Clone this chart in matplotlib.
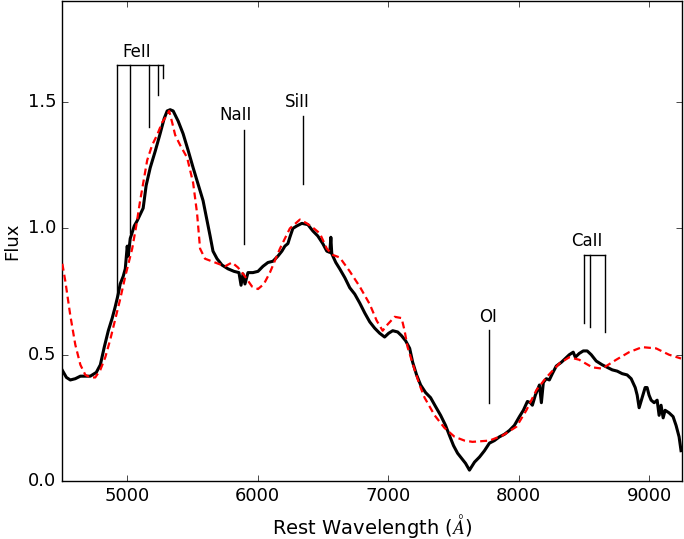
#
# spectrum vs model plot, with line ids
#

import numpy as np
import matplotlib
matplotlib.use('Agg')
import matplotlib.pyplot as plt

# observed spectrum (rest frame)
obs_wave = [4503, 4534, 4564, 4602, 4641, 4717, 4763, 4794, 4824, 4855,
            4885, 4908, 4931, 4946, 4969, 4985, 5000, 5008, 5023, 5054,
            5076, 5099, 5122, 5145, 5176, 5214, 5252, 5283, 5306, 5329,
            5352, 5390, 5428, 5466, 5505, 5543, 5581, 5612, 5635, 5657,
            5688, 5726, 5772, 5818, 5856, 5872, 5887, 5902, 5925, 5963,
            6002, 6040, 6078, 6116, 6154, 6185, 6208, 6231, 6246, 6269,
            6300, 6338, 6384, 6422, 6460, 6498, 6529, 6552, 6560, 6567,
            6598, 6628, 6667, 6705, 6743, 6781, 6820, 6858, 6896, 6934,
            6972, 7003, 7034, 7072, 7102, 7133, 7164, 7187, 7217, 7248,
            7286, 7324, 7362, 7401, 7439, 7469, 7500, 7531, 7561, 7592,
            7622, 7661, 7699, 7737, 7775, 7813, 7852, 7890, 7928, 7966,
            8005, 8035, 8066, 8089, 8104, 8127, 8158, 8173, 8188, 8211,
            8234, 8257, 8287, 8326, 8356, 8387, 8417, 8433, 8463, 8494,
            8524, 8555, 8593, 8639, 8677, 8716, 8754, 8792, 8830, 8861,
            8892, 8907, 8922, 8945, 8968, 8983, 8998, 9014, 9037, 9060,
            9075, 9090, 9106, 9121, 9151, 9182, 9205, 9228, 9243]
obs_flux = [0.438, 0.41, 0.40, 0.405, 0.415, 0.415, 0.43, 0.46, 0.53, 0.595,
            0.645, 0.69, 0.74, 0.78, 0.81, 0.84, 0.93, 0.89, 0.96, 1.01,
            1.03, 1.055, 1.08, 1.17, 1.24, 1.305, 1.375, 1.435, 1.465, 1.47,
            1.465, 1.425, 1.375, 1.31, 1.24, 1.175, 1.11, 1.03, 0.97, 0.91,
            0.88, 0.855, 0.84, 0.83, 0.825, 0.775, 0.82, 0.78, 0.825, 0.825,
            0.83, 0.85, 0.865, 0.87, 0.89, 0.91, 0.93, 0.94, 0.965, 1.0,
            1.01, 1.02, 1.015, 0.99, 0.97, 0.94, 0.91, 0.905, 0.965, 0.90,
            0.865, 0.84, 0.805, 0.765, 0.74, 0.705, 0.665, 0.63, 0.605, 0.585,
            0.57, 0.585, 0.595, 0.59, 0.575, 0.555, 0.525, 0.47, 0.42, 0.38,
            0.35, 0.33, 0.295, 0.26, 0.22, 0.18, 0.14, 0.11, 0.09, 0.07,
            0.043, 0.075, 0.095, 0.12, 0.15, 0.16, 0.175, 0.185, 0.20, 0.22,
            0.255, 0.28, 0.315, 0.31, 0.30, 0.34, 0.38, 0.31, 0.39, 0.405,
            0.40, 0.425, 0.455, 0.47, 0.485, 0.50, 0.51, 0.49, 0.505, 0.515,
            0.515, 0.50, 0.475, 0.46, 0.45, 0.44, 0.435, 0.425, 0.42, 0.405,
            0.37, 0.34, 0.29, 0.33, 0.37, 0.37, 0.34, 0.32, 0.31, 0.32,
            0.26, 0.30, 0.25, 0.28, 0.27, 0.255, 0.22, 0.175, 0.12]

# synthetic model spectrum
mod_wave = [4503, 4526, 4564, 4602, 4641, 4679, 4717, 4755, 4794, 4832,
            4870, 4908, 4946, 4985, 5038, 5069, 5099, 5153, 5191, 5229,
            5268, 5306, 5321, 5344, 5367, 5405, 5459, 5505, 5535, 5558,
            5596, 5673, 5749, 5803, 5849, 5902, 5956, 6002, 6047, 6093,
            6170, 6246, 6323, 6376, 6430, 6476, 6529, 6575, 6628, 6705,
            6781, 6858, 6911, 6957, 6995, 7049, 7102, 7125, 7148, 7202,
            7240, 7278, 7355, 7431, 7508, 7584, 7645, 7775, 7875, 7982,
            8058, 8135, 8211, 8310, 8387, 8463, 8563, 8639, 8746, 8845,
            8945, 9052, 9151, 9243]
mod_flux = [0.86, 0.79, 0.655, 0.54, 0.46, 0.42, 0.41, 0.41, 0.44, 0.49,
            0.56, 0.64, 0.72, 0.81, 0.92, 1.01, 1.11, 1.27, 1.33, 1.37,
            1.42, 1.45, 1.465, 1.42, 1.37, 1.33, 1.28, 1.18, 1.06, 0.92,
            0.88, 0.865, 0.85, 0.865, 0.845, 0.81, 0.77, 0.76, 0.78, 0.825,
            0.92, 1.0, 1.035, 1.02, 1.0, 0.98, 0.92, 0.895, 0.885, 0.83,
            0.77, 0.70, 0.635, 0.595, 0.62, 0.65, 0.645, 0.595, 0.53, 0.44,
            0.38, 0.33, 0.26, 0.21, 0.175, 0.16, 0.155, 0.16, 0.18, 0.215,
            0.28, 0.36, 0.41, 0.465, 0.49, 0.48, 0.45, 0.445, 0.48, 0.51,
            0.53, 0.525, 0.50, 0.485]

# line identifications
feii_wave = [4924, 5018, 5169, 5235, 5276]
feii_bottom = [0.726, 0.98, 1.40, 1.53, 1.595]
feii_top = 1.646
caii_wave = [8498, 8542, 8662]
caii_bottom = [0.624, 0.61, 0.59]
caii_top = 0.896
single_ids = {"NaII": (5893, 0.94, 1.39), "SiII": (6347, 1.176, 1.445), "OI": (7774, 0.308, 0.596)}
label_pos = {"FeII": (5074, 1.70), "NaII": (5833, 1.45), "SiII": (6300, 1.50),
             "OI": (7768, 0.65), "CaII": (8524, 0.95)}

plt.style.use('classic')
plt.rcParams['font.size'] = 13

fig = plt.figure(figsize=(6.84, 5.39), dpi=100)
ax = fig.add_axes([0.0906, 0.1076, 0.9064, 0.8904])

ax.plot(obs_wave, obs_flux, color='black', lw=2.2, zorder=3)
ax.plot(mod_wave, mod_flux, color='red', lw=1.6, dashes=(5, 3), zorder=4)

# line markers
for w, b in zip(feii_wave, feii_bottom):
    ax.plot([w, w], [b, feii_top], color='black', lw=1)
ax.plot([feii_wave[0], feii_wave[-1]], [feii_top, feii_top], color='black', lw=1)
for w, b in zip(caii_wave, caii_bottom):
    ax.plot([w, w], [b, caii_top], color='black', lw=1)
ax.plot([caii_wave[0], caii_wave[-1]], [caii_top, caii_top], color='black', lw=1)
for name, (w, b, t) in single_ids.items():
    ax.plot([w, w], [b, t], color='black', lw=1)

for name, (x, y) in label_pos.items():
    ax.text(x, y, name, ha='center', va='center', fontsize=12)

ax.set_xlim(4500, 9250)
ax.set_ylim(0, 1.9)
ax.set_xticks([5000, 6000, 7000, 8000, 9000])
ax.set_yticks([0.0, 0.5, 1.0, 1.5])
ax.set_xlabel(r'Rest Wavelength ($\AA$)', fontsize=14)
ax.set_ylabel('Flux', fontsize=13)

fig.savefig('out.png', dpi=100)
